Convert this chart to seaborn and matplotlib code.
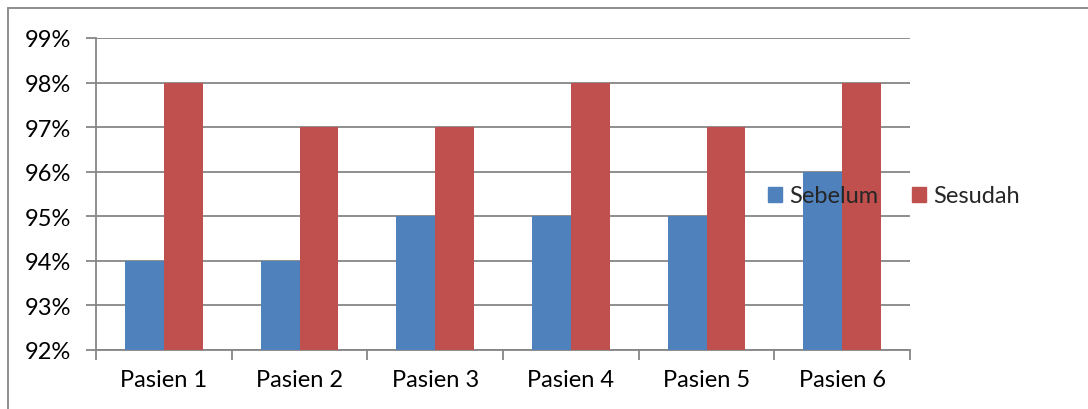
import matplotlib
matplotlib.use("Agg")
import matplotlib.pyplot as plt
import seaborn as sns
import pandas as pd
from matplotlib.lines import Line2D
from matplotlib.ticker import FixedLocator

categories = ["Pasien 1", "Pasien 2", "Pasien 3", "Pasien 4", "Pasien 5", "Pasien 6"]
sebelum = [94, 94, 95, 95, 95, 96]
sesudah = [98, 97, 97, 98, 97, 98]
series = ["Sebelum", "Sesudah"]
colors = ["#4F81BD", "#C0504D"]
yticks = [92, 93, 94, 95, 96, 97, 98, 99]

df = pd.DataFrame({
    "Pasien": categories * 2,
    "Nilai": sebelum + sesudah,
    "Seri": [series[0]] * len(categories) + [series[1]] * len(categories),
})

sns.set_theme(style="white")
plt.rcParams["font.family"] = ["Lato", "DejaVu Sans"]

FS = 17

fig = plt.figure(figsize=(10.88, 4.10), dpi=100)
ax = fig.add_axes([96 / 1088, 1 - 351 / 410, (910 - 96) / 1088, (351 - 39) / 410])

sns.barplot(data=df, x="Pasien", y="Nilai", hue="Seri", palette=colors,
            width=0.574, ax=ax, legend=False, saturation=1, zorder=3)
for p in ax.patches:
    p.set_edgecolor("none")

ax.set_ylim(92, 99)
ax.set_xlim(-0.5, len(categories) - 0.5)
ax.set_yticks(yticks)
ax.set_yticklabels([f"{v}%" for v in yticks], fontsize=FS, color="black")
ax.set_xticks(range(len(categories)))
ax.set_xticklabels(categories, fontsize=FS, color="black")
ax.xaxis.set_minor_locator(FixedLocator([i - 0.5 for i in range(len(categories) + 1)]))
ax.tick_params(axis="x", which="major", length=0, pad=14)
ax.tick_params(axis="x", which="minor", length=7, width=1.3, color="#868686", direction="out", bottom=True)
ax.tick_params(axis="y", which="major", length=7, width=1.3, color="#868686", direction="out", left=True, pad=11)
ax.set_xlabel("")
ax.set_ylabel("")
ax.yaxis.grid(True, color="#868686", linewidth=1.3, zorder=0)
ax.set_axisbelow(True)
for s in ["top", "right"]:
    ax.spines[s].set_visible(False)
for s in ["left", "bottom"]:
    ax.spines[s].set_color("#868686")
    ax.spines[s].set_linewidth(1.3)

handles = [plt.Rectangle((0, 0), 1, 1, color=c) for c in colors]
fig.legend(handles, series, loc="center left", bbox_to_anchor=(756 / 1088, 1 - 197 / 410),
           ncol=2, frameon=False, fontsize=FS, handlelength=0.62, handleheight=0.62,
           handletextpad=0.3, columnspacing=1.4, borderpad=0)

# outer chart border (only left and top visible in the crop)
fig.add_artist(Line2D([8 / 1088, 8 / 1088], [0, 1 - 9 / 410], transform=fig.transFigure,
                      color="#868686", linewidth=1.3))
fig.add_artist(Line2D([8 / 1088, 1], [1 - 9 / 410, 1 - 9 / 410], transform=fig.transFigure,
                      color="#868686", linewidth=1.3))

fig.savefig("out.png", dpi=100)
